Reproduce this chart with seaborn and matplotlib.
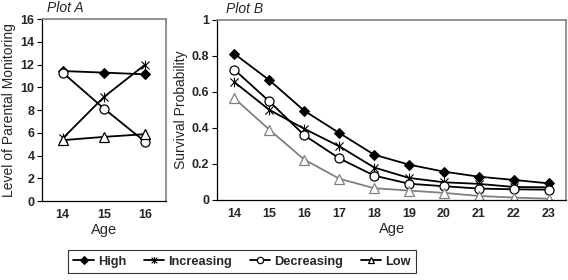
import numpy as np
import pandas as pd
import matplotlib
matplotlib.use("Agg")
import matplotlib.pyplot as plt
from matplotlib.path import Path
import seaborn as sns

# Plot A: parental monitoring by trajectory group
ages_a = [14, 15, 16]
high_a = [11.43, 11.29, 11.14]
incr_a = [5.5, 9.15, 12.0]
decr_a = [11.29, 8.13, 5.2]
low_a = [5.35, 5.64, 5.88]

# Plot B: survival probability
ages_b = [14, 15, 16, 17, 18, 19, 20, 21, 22, 23]
high_b = [0.811, 0.665, 0.495, 0.372, 0.251, 0.196, 0.157, 0.129, 0.111, 0.092]
incr_b = [0.654, 0.50, 0.395, 0.298, 0.18, 0.122, 0.098, 0.089, 0.072, 0.07]
decr_b = [0.723, 0.547, 0.359, 0.231, 0.135, 0.09, 0.076, 0.063, 0.059, 0.057]
low_b = [0.564, 0.39, 0.224, 0.118, 0.065, 0.052, 0.039, 0.022, 0.013, 0.007]

groups = ["High", "Increasing", "Decreasing", "Low"]

sns.set_style("white")
plt.rcParams['font.family'] = ['Liberation Sans', 'DejaVu Sans']

# excel-like star marker: x with a vertical bar
star = Path([(-1, -1), (1, 1), (-1, 1), (1, -1), (0, -1.2), (0, 1.2)],
            [Path.MOVETO, Path.LINETO, Path.MOVETO, Path.LINETO, Path.MOVETO, Path.LINETO])

styles = {
    "High": dict(marker="D", markersize=5.5, markerfacecolor="black", markeredgecolor="black"),
    "Increasing": dict(marker=star, markersize=7, markerfacecolor="none", markeredgecolor="black",
                       markeredgewidth=0.8),
    "Decreasing": dict(marker="o", markersize=6.5, markerfacecolor="white", markeredgecolor="black",
                       markeredgewidth=0.9),
    "Low": dict(marker="^", markersize=6.5, markerfacecolor="white", markeredgecolor="black",
                markeredgewidth=0.9),
}


def draw(ax, ages, series, colors):
    for name, vals in zip(groups, series):
        kw = dict(styles[name])
        kw["markeredgecolor"] = colors[name]
        sns.lineplot(x=ages, y=vals, ax=ax, color=colors[name], lw=1.3, label=name,
                     legend=False, **kw)


def style_axes(ax, ages):
    ax.set_xlim(ages[0] - 0.5, ages[-1] + 0.5)
    ax.set_xticks(ages)
    ax.set_xticks(np.arange(ages[0] - 0.5, ages[-1] + 1, 1), minor=True)
    ax.tick_params(axis="x", which="major", length=0, pad=6, labelsize=9)
    ax.tick_params(axis="x", which="minor", length=3.5, width=0.8, direction="out", color="black")
    ax.tick_params(axis="y", which="major", length=3.5, width=0.8, direction="out", color="black",
                   pad=2, labelsize=9, left=True)
    for lab in ax.get_xticklabels() + ax.get_yticklabels():
        lab.set_fontweight("bold")
    for side in ["left", "bottom"]:
        ax.spines[side].set_color("black")
        ax.spines[side].set_linewidth(0.9)
    for side in ["top", "right"]:
        ax.spines[side].set_color("#808080")
        ax.spines[side].set_linewidth(1.2)
    ax.set_xlabel("Age", fontsize=10.5, labelpad=1)


fig = plt.figure(figsize=(5.68, 2.8), dpi=100)
ax_a = fig.add_axes([0.074, 0.282, 0.218, 0.65])
ax_b = fig.add_axes([0.382, 0.286, 0.615, 0.643])

black = {g: "black" for g in groups}
draw(ax_a, ages_a, [high_a, incr_a, decr_a, low_a], black)
ax_a.set_ylim(0, 16)
ax_a.set_yticks(range(0, 17, 2))
style_axes(ax_a, ages_a)
ax_a.set_ylabel("Level of Parental Monitoring", fontsize=10, labelpad=3)
ax_a.text(0.04, 1.02, "Plot A", transform=ax_a.transAxes, fontsize=10, style="italic",
          ha="left", va="bottom")

colors_b = dict(black)
colors_b["Low"] = "#808080"
draw(ax_b, ages_b, [high_b, incr_b, decr_b, low_b], colors_b)
ax_b.set_ylim(0, 1)
ax_b.set_yticks([0, 0.2, 0.4, 0.6, 0.8, 1])
ax_b.set_yticklabels(["0", "0.2", "0.4", "0.6", "0.8", "1"])
style_axes(ax_b, ages_b)
ax_b.set_ylabel("Survival Probability", fontsize=10, labelpad=3)
ax_b.text(0.027, 1.02, "Plot B", transform=ax_b.transAxes, fontsize=10, style="italic",
          ha="left", va="bottom")

handles, labels = ax_a.get_legend_handles_labels()
leg = fig.legend(handles, labels, loc="center", bbox_to_anchor=(0.426, 0.066), ncol=4,
                 frameon=True, fancybox=False, edgecolor="black", handlelength=1.6,
                 handletextpad=0.3, columnspacing=1.4, borderpad=0.45, markerscale=0.7,
                 prop={"weight": "bold", "size": 9.2})
leg.get_frame().set_linewidth(0.8)

fig.savefig("out.png", dpi=100)
